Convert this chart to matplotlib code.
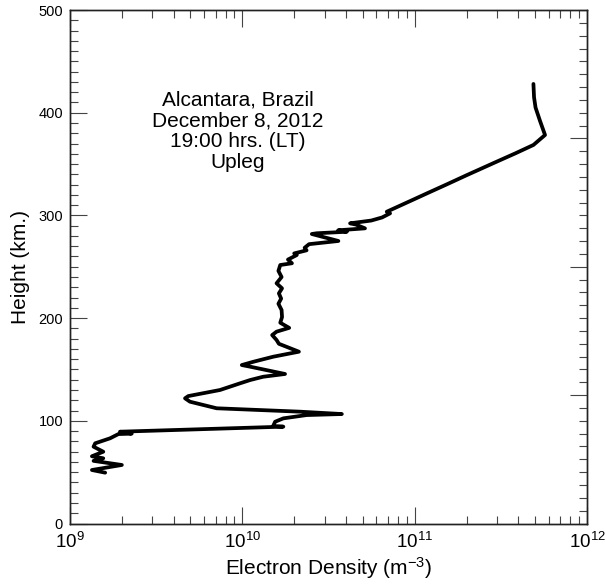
#!/usr/bin/python
# electron density profile, rocket upleg, Alcantara
import numpy as np
import matplotlib
matplotlib.use('Agg')
import matplotlib.pyplot as plt
from matplotlib.ticker import MultipleLocator, LogLocator, NullFormatter, FixedLocator

plt.rcParams['font.family'] = ['Liberation Sans', 'DejaVu Sans']
plt.rcParams['mathtext.fontset'] = 'custom'
plt.rcParams['mathtext.rm'] = 'Liberation Sans'
plt.rcParams['mathtext.it'] = 'Liberation Sans'

# electron density (m^-3), bottom to top
density = [1.60e9, 1.34e9, 2.00e9, 1.37e9, 1.56e9, 1.34e9, 1.56e9, 1.37e9,
           1.40e9, 1.71e9, 1.91e9, 2.28e9, 1.95e9, 1.73e10, 1.51e10, 1.55e10,
           1.73e10, 2.36e10, 3.78e10, 2.16e10, 7.10e9, 4.97e9, 4.65e9, 4.86e9,
           7.42e9, 9.70e9, 1.11e10, 1.32e10, 1.77e10, 1.11e10, 9.93e9, 1.16e10,
           1.51e10, 2.13e10, 1.63e10, 1.58e10, 1.49e10, 1.58e10, 1.87e10, 1.66e10,
           1.70e10, 1.69e10, 1.62e10, 1.68e10, 1.63e10, 1.70e10, 1.58e10, 1.69e10,
           1.62e10, 1.66e10, 1.94e10, 1.84e10, 2.07e10, 2.00e10, 2.36e10, 2.30e10,
           2.44e10, 3.61e10, 2.53e10, 2.70e10, 4.04e10, 3.60e10, 5.15e10, 4.57e10,
           4.22e10, 5.60e10, 6.47e10, 7.20e10, 6.89e10, 8.23e10, 9.83e10, 1.18e11,
           1.535e11, 2.00e11, 3.00e11, 3.85e11, 4.89e11, 5.71e11, 5.34e11, 5.03e11,
           4.93e11, 4.89e11]
# height (km)
height = [49.5, 52.1, 57.0, 61.0, 63.5, 65.5, 69.9, 74.8,
          78.1, 83.0, 87.1, 87.5, 89.4, 94.3, 95.0, 99.1,
          102.4, 105.6, 106.6, 108.9, 112.2, 118.6, 121.9, 124.1,
          130.0, 136.5, 139.7, 142.9, 145.6, 152.7, 154.3, 157.5,
          162.4, 167.3, 175.0, 178.7, 183.5, 186.8, 190.5, 195.5,
          201.0, 207.9, 214.0, 219.0, 224.1, 229.0, 233.9, 240.0,
          246.0, 251.7, 253.4, 257.0, 261.4, 263.0, 266.0, 268.5,
          272.0, 275.1, 281.9, 282.6, 284.1, 285.5, 287.4, 291.0,
          292.3, 295.0, 298.0, 302.0, 303.6, 309.5, 315.4, 321.5,
          330.2, 339.1, 352.4, 360.5, 368.6, 378.3, 392.0, 405.0,
          415.0, 428.0]

label_lines = ['Alcantara, Brazil', 'December 8, 2012', '19:00 hrs. (LT)', 'Upleg']

fig = plt.figure(figsize=(6.05, 5.85), dpi=100)
ax = fig.add_axes([0.1157, 0.1051, 0.8545, 0.8778])

ax.plot(density, height, color='black', lw=2.7, solid_joinstyle='round', solid_capstyle='round')

ax.set_xscale('log')
ax.set_xlim(1e9, 1e12)
ax.set_ylim(0, 500)

ax.xaxis.set_major_locator(LogLocator(base=10))
ax.xaxis.set_minor_locator(LogLocator(base=10, subs=np.arange(2, 10)))
ax.xaxis.set_minor_formatter(NullFormatter())
ax.set_xticks([1e9, 1e10, 1e11, 1e12])
ax.set_xticklabels([r'$10^{9}$', r'$10^{10}$', r'$10^{11}$', r'$10^{12}$'], fontsize=13.5)

ax.yaxis.set_major_locator(MultipleLocator(100))
ax.yaxis.set_minor_locator(MultipleLocator(10))

ax.tick_params(which='both', direction='in', top=True, right=False, color='#444', width=0.8)
ax.tick_params(which='major', length=12)
ax.tick_params(which='minor', length=6)
ax.tick_params(axis='x', which='major', pad=6)
ax.tick_params(axis='y', which='major', pad=5, labelsize=10.5)

# right side has its own tick spacing
ax2 = ax.twinx()
ax2.set_ylim(0, 500)
ax2.yaxis.set_major_locator(FixedLocator([125, 250, 375]))
ax2.yaxis.set_minor_locator(MultipleLocator(12.5))
ax2.tick_params(which='both', direction='in', right=True, left=False, labelright=False, color='#444', width=0.8)
ax2.tick_params(which='major', length=12)
ax2.tick_params(which='minor', length=6)

for a in (ax, ax2):
    for s in a.spines.values():
        s.set_color('#222')
        s.set_linewidth(1.0)

ax.set_xlabel(r'Electron Density (m$^{-3}$)', fontsize=15, labelpad=2)
ax.set_ylabel('Height (km.)', fontsize=15, labelpad=6)

ax.text(9.37e9, 382, '\n'.join(label_lines), ha='center', va='center',
        multialignment='center', fontsize=15, linespacing=1.12)

fig.savefig('out.png', dpi=100)
